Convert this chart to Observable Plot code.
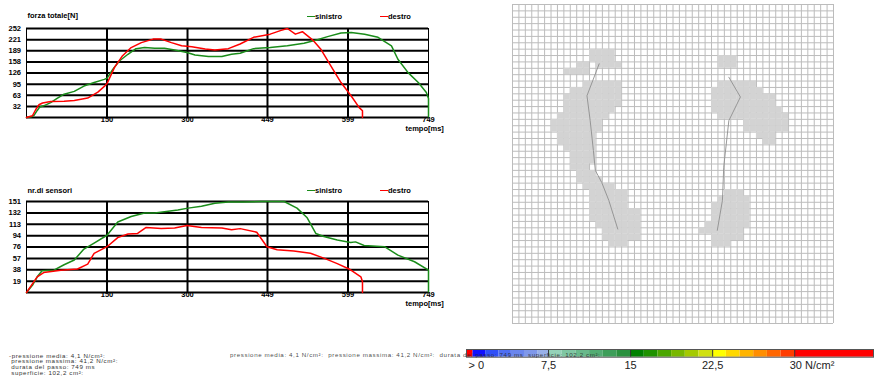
<!DOCTYPE html>
<html><head><meta charset="utf-8">
<script src="https://cdn.jsdelivr.net/npm/d3@7"></script>
<script src="https://cdn.jsdelivr.net/npm/@observablehq/plot@0.6"></script>
<style>
body{margin:0;background:#fff;}
#root{position:relative;width:874px;height:387px;overflow:hidden;font-family:"Liberation Sans",Arial,sans-serif;}
.abs{position:absolute;}
.leg{position:absolute;font-size:7.5px;font-weight:bold;line-height:8px;white-space:nowrap;color:#000;}
.leg i{display:inline-block;width:8px;height:1.3px;vertical-align:middle;}
.info{position:absolute;font-size:6.2px;letter-spacing:0.6px;line-height:5.8px;color:#333;white-space:pre;}
svg{overflow:visible;}
</style></head><body><div id="root"></div>
<script>
// ---------- data ----------
const timeTicks = [150, 300, 449, 599, 749];
const forceTickValues = [31.5, 63, 94.5, 126, 157.5, 189, 220.5, 252];
const forceTickLabels = ["32", "63", "95", "126", "158", "189", "221", "252"];
const sensorTickValues = [18.875, 37.75, 56.625, 75.5, 94.375, 113.25, 132.125, 151];
const sensorTickLabels = ["19", "38", "57", "76", "94", "113", "132", "151"];
const seriesNames = ["sinistro", "destro"];

const forceLeftT = [0,9,14,20,25,32,45,57,70,89,107,126,145,150,161,173,189,204,220,239,257,276,299,314,339,364,382,398,423,454,486,517,542,561,586,605,630,655,680,692,711,730,745,749,749];
const forceLeftV = [0,2,6,20,30,33,42,54,66,74,89,99,108,111,137,160,179,195,198,196,196,191,184,177,173,173,179,182,195,198,203,210,220,229,239,241,236,227,203,165,127,99,71,54,0];
const forceRightT = [0,11,17,23,30,45,70,89,114,133,145,150,164,179,195,214,236,251,270,289,308,333,351,376,398,423,454,473,486,501,514,533,548,567,586,605,620,626,626];
const forceRightV = [0,5,22,36,41,45,46,48,55,72,88,96,142,175,198,212,222,222,212,203,200,194,191,195,208,227,236,246,252,236,243,220,194,146,99,61,28,19,0];

const sensLeftT = [0,11,20,29,51,70,89,107,126,150,170,195,220,239,257,282,301,326,351,376,404,436,480,504,523,539,554,579,604,613,629,667,692,723,749,749];
const sensLeftV = [0,12,26,36,37,46,54,72,82,95,117,126,132,132,134,137,140,143,148,150,150,151,151,140,124,98,93,87,83,84,78,76,62,51,37,0];
const sensRightT = [0,20,32,64,95,114,126,150,170,189,207,223,251,276,299,326,364,382,398,429,448,467,498,529,554,579,601,623,626,626];
const sensRightV = [0,26,33,37,39,47,65,76,91,97,98,108,106,107,111,108,107,104,106,100,76,71,69,65,57,48,39,26,18,0];

// foot pressure map: [row, firstCol, lastCol] on a 50x50 grid
const leftFootRows = [[7,12,15],[8,12,15],[9,10,11],[9,13,16],[10,8,11],[12,11,16],[13,9,16],[14,8,16],[15,8,16],[16,8,15],[17,7,14],[18,6,13],[19,6,13],[20,7,12],[21,7,12],[22,8,12],[23,9,12],[24,9,12],[25,9,11],[26,10,12],[27,10,13],[28,11,15],[29,12,17],[30,12,17],[31,12,17],[32,12,19],[33,12,19],[34,13,19],[35,14,19],[36,14,19],[37,15,17]];
const rightFootRows = [[8,32,34],[9,32,34],[12,32,37],[13,31,38],[14,31,40],[15,31,40],[16,31,41],[17,32,42],[18,36,42],[19,36,42],[20,38,40],[21,39,40],[29,33,35],[30,32,36],[31,31,36],[32,31,36],[33,31,36],[34,30,36],[35,29,35],[36,31,35],[37,31,33]];
const leftPathC = [13.5,11.6,12.1,12.6,12.9,13.9,15.0,16.4];
const leftPathR = [9.3,14.3,18.2,22.9,26.0,27.9,30.7,35.2];
const rightPathC = [33.7,35.5,33.7,32.9,32.7,31.9];
const rightPathR = [11.4,14.5,18.2,25.5,30.7,35.4];

// colour bar
const cbStops = [0,0.6,1.75,2.95,4.1,5.3,6.5,7.5,8.75,10,11.25,12.5,13.75,15,16.25,17.5,18.75,20,21.25,22.5,23.75,25,26.25,27.5,28.75,30,37.2];
const cbColors = ["#ff0000","#1010ff","#3050f8","#4f6ff2","#6a86ee","#7f98ea","#98b0e8",
  "#95d2b8","#7fc6a2","#69b98b","#53ac73","#3d9e59","#2a913e",
  "#008000","#1e9200","#4aa600","#78b800","#a4ca00","#d0e010",
  "#ffff00","#ffd800","#ffb400","#ff8e00","#ff6600","#ff3c00","#ff0000"];
const cbTicks = [0, 7.5, 15, 22.5, 30];
const cbTickLabels = ["> 0", "7,5", "15", "22,5", "30 N/cm\u00b2"];

const infoLines = ["-pressione media: 4,1 N/cm\u00b2:", " pressione massima: 41,2 N/cm\u00b2:", " durata del passo: 749 ms", " superficie: 102,2 cm\u00b2:"];
const infoInline = "pressione media: 4,1 N/cm\u00b2:  pressione massima: 41,2 N/cm\u00b2:  durata del passo: 749 ms  superficie: 102,2 cm\u00b2:";

// ---------- helpers ----------
const GREEN = "#1a8c1a", RED = "#ff0000";
const root = document.getElementById("root");
function place(node, left, top) {
  const d = document.createElement("div");
  d.className = "abs"; d.style.left = left + "px"; d.style.top = top + "px";
  d.appendChild(node); root.appendChild(d); return d;
}
const zip = (T, V) => T.map((t, i) => ({t, v: V[i]}));

function lineChart({title, yMax, tickValues, tickLabels, left, right, marginBottom, titleDy}) {
  return Plot.plot({
    width: 445, height: 140,
    marginLeft: 26, marginRight: 17, marginTop: 28, marginBottom,
    x: {domain: [0, 749], axis: null},
    y: {domain: [0, yMax], axis: null},
    style: {fontFamily: "'Liberation Sans', Arial, sans-serif", fontSize: "7.5px", fontWeight: "bold", background: "transparent", color: "#000"},
    marks: [
      Plot.ruleY([0, ...tickValues], {stroke: "#000", strokeWidth: 2}),
      Plot.ruleX(timeTicks.slice(0, -1), {stroke: "#000", strokeWidth: 2}),
      Plot.frame({stroke: "#000", strokeWidth: 1}),
      Plot.line(zip(left.t, left.v), {x: "t", y: "v", stroke: GREEN, strokeWidth: 1.5}),
      Plot.line(zip(right.t, right.v), {x: "t", y: "v", stroke: RED, strokeWidth: 1.5}),
      Plot.text(tickValues, {y: d => d, text: tickLabels, frameAnchor: "left", textAnchor: "end", dx: -5.5}),
      Plot.text(timeTicks, {x: d => d, text: d => String(d), frameAnchor: "bottom", dy: 4}),
      Plot.text(["tempo[ms]"], {text: d => d, frameAnchor: "bottom-right", textAnchor: "start", dx: -23, dy: 13}),
      Plot.text([title], {text: d => d, frameAnchor: "top-left", textAnchor: "start", dx: 1, dy: titleDy})
    ]
  });
}
function legend(top) {
  const d = document.createElement("div");
  d.innerHTML = `<div class="leg" style="left:307px;top:${top}px"><i style="background:${GREEN}"></i>${seriesNames[0]}</div>` +
                `<div class="leg" style="left:380px;top:${top}px"><i style="background:${RED}"></i>${seriesNames[1]}</div>`;
  while (d.firstChild) root.appendChild(d.firstChild);
}

// ---------- charts ----------
place(lineChart({title: "forza totale[N]", yMax: 252, tickValues: forceTickValues, tickLabels: forceTickLabels,
  left: {t: forceLeftT, v: forceLeftV}, right: {t: forceRightT, v: forceRightV}, marginBottom: 23, titleDy: -16.3}), 0, 0);
legend(12.7);
place(lineChart({title: "nr.di sensori", yMax: 151, tickValues: sensorTickValues, tickLabels: sensorTickLabels,
  left: {t: sensLeftT, v: sensLeftV}, right: {t: sensRightT, v: sensRightV}, marginBottom: 21, titleDy: -14.3}), 0, 173);
legend(186.7);

// ---------- foot grid ----------
const cells = [];
for (const [r, c1, c2] of [...leftFootRows, ...rightFootRows]) for (let c = c1; c <= c2; c++) cells.push({r, c});
const gridLines = d3.range(51);
place(Plot.plot({
  width: 330, height: 330, marginLeft: 4, marginRight: 5, marginTop: 4, marginBottom: 7,
  x: {domain: [0, 50], axis: null},
  y: {domain: [0, 50], reverse: true, axis: null},
  marks: [
    Plot.ruleX(gridLines, {stroke: "#bcbcbc", strokeWidth: 1}),
    Plot.ruleY(gridLines, {stroke: "#bcbcbc", strokeWidth: 1}),
    Plot.rect(cells, {x1: "c", x2: d => d.c + 1, y1: "r", y2: d => d.r + 1, fill: "#d3d3d3"}),
    Plot.line(zip(leftPathC, leftPathR), {x: "t", y: "v", stroke: "#8e8e8e", strokeWidth: 0.9}),
    Plot.line(zip(rightPathC, rightPathR), {x: "t", y: "v", stroke: "#8e8e8e", strokeWidth: 0.9})
  ]
}), 508, 0);

// ---------- colour bar ----------
const cbIdx = d3.range(cbColors.length);
place(Plot.plot({
  width: 414, height: 40, marginLeft: 6, marginRight: 1, marginTop: 9, marginBottom: 23.3,
  x: {domain: [0, 37.2], axis: null},
  color: {type: "identity"},
  style: {fontFamily: "'Liberation Sans', Arial, sans-serif", fontSize: "11px", background: "transparent", color: "#222"},
  marks: [
    Plot.rect(cbIdx, {x1: i => cbStops[i], x2: i => cbStops[i + 1], fill: i => cbColors[i]}),
    Plot.ruleX(cbTicks.slice(1), {stroke: "#333", strokeWidth: 1}),
    Plot.frame({stroke: "#555", strokeWidth: 1}),
    Plot.text([0], {x: d => d, text: [cbTickLabels[0]], frameAnchor: "bottom", textAnchor: "start", dx: 2, dy: 11.6}),
    Plot.text(cbTicks.slice(1, -1), {x: d => d, text: cbTickLabels.slice(1, -1), frameAnchor: "bottom", dy: 11.6}),
    Plot.text([30], {x: d => d, text: [cbTickLabels[4]], frameAnchor: "bottom", textAnchor: "start", dx: -5, dy: 11.6})
  ]
}), 460, 340);

// ---------- info texts ----------
const info = document.createElement("div");
info.className = "info"; info.style.left = "9px"; info.style.top = "352.7px";
info.textContent = infoLines.join("\n");
root.appendChild(info);
const info2 = document.createElement("div");
info2.className = "info"; info2.style.left = "230px"; info2.style.top = "352.4px"; info2.style.color = "rgba(40,40,40,0.85)";
info2.textContent = infoInline;
root.appendChild(info2);
</script></body></html>
